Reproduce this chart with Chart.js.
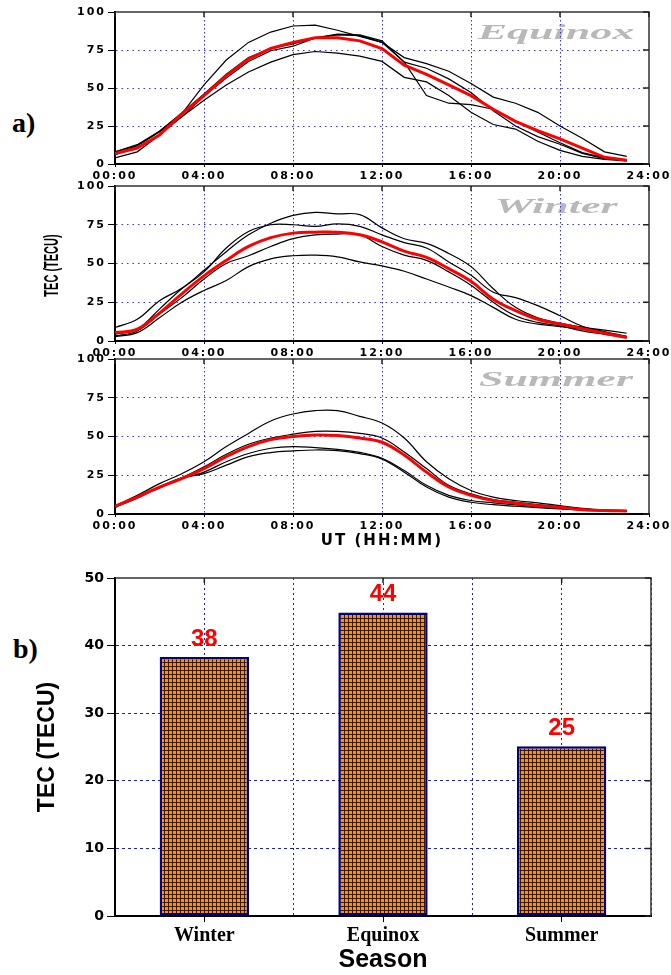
<!DOCTYPE html>
<html>
<head>
<meta charset="utf-8">
<script src="https://cdn.jsdelivr.net/npm/chart.js@4.4.1/dist/chart.umd.min.js"></script>
<style>
  body { margin: 0; background: #fff; width: 671px; height: 975px; position: relative; overflow: hidden; }
  canvas { position: absolute; left: 0; }
  .tag { position: absolute; font: bold 28px "Liberation Serif", serif; line-height: 1; color: #000; }
</style>
</head>
<body>
<div class="tag" style="left:12px;top:109px">a)</div>
<div class="tag" style="left:13px;top:635px">b)</div>
<canvas id="equinox" width="671" height="184" style="top:0"></canvas>
<canvas id="winter" width="671" height="190" style="top:170px"></canvas>
<canvas id="summer" width="671" height="207" style="top:343px"></canvas>
<canvas id="bars" width="671" height="425" style="top:550px"></canvas>
<script>
// hourly TEC, UT 00:00 .. 23:00
const hours = [0, 1, 2, 3, 4, 5, 6, 7, 8, 9, 10, 11, 12, 13, 14, 15, 16, 17, 18, 19, 20, 21, 22, 23];

const eqMean = [6.8, 10.5, 19, 33, 45, 58, 69, 76, 80, 83, 83, 81, 76, 65, 59, 52, 45, 36, 28, 22, 16.5, 10.5, 4.4, 2.4];
const eqA = [8, 12.7, 21.5, 33, 52, 68.4, 80, 86.8, 90.8, 91.4, 88, 84, 80, 70, 66, 61, 53, 44, 40, 34, 25, 17, 8, 5];
const eqB = [4, 8, 19, 31, 42, 52, 60.5, 67, 72, 74, 73, 71, 67.5, 57, 54, 45, 34, 26, 23, 15, 9, 5, 3, 2];
const eqC = [6, 12, 21, 31, 44.5, 56.5, 67.5, 74.5, 77.5, 83, 85.5, 85, 81, 67, 45, 40, 39, 36, 28, 21, 14, 7.5, 4, 2.5];
const eqD = [8, 12, 21.5, 33.5, 46, 59, 70, 76, 79, 83, 85, 84.4, 80, 67, 63, 56, 47, 35, 25, 18, 13, 7, 3.5, 2.2];

const winMean = [5.4, 7.6, 18, 30.4, 42, 52, 61, 66.7, 69.6, 70.2, 70.2, 68.5, 64, 58, 54, 46.7, 38.5, 27, 19.6, 14, 11, 8, 5, 2.2];
const winA = [8.7, 14, 26, 34, 45.6, 57.6, 68.5, 76, 81, 83, 82, 81.5, 73, 66, 63, 56.5, 48, 33.7, 21.7, 15, 11.5, 9, 7, 5];
const winB = [4.3, 7.6, 20.6, 33.7, 44.6, 60, 70.6, 75, 75, 74, 75.6, 74, 68.5, 63.5, 60, 51, 42.4, 31.5, 28, 22.8, 16.3, 9.5, 6, 3];
const winC = [3.3, 6.5, 17.4, 28, 40, 50, 55, 61, 66, 68.5, 69, 68.5, 61, 55.4, 52, 44.6, 36, 25, 16.3, 12, 9.8, 6.5, 4.3, 2.2];
const winD = [2.8, 5.4, 15, 25, 32.6, 39, 48, 53, 55, 55.4, 54.3, 51, 48.5, 45, 40, 34.8, 29.3, 21.7, 14, 10.9, 9.3, 7.6, 5, 2.8];

const sumMean = [5, 10.9, 17.4, 22.8, 29.3, 37, 43.5, 48, 50, 51, 50.6, 49, 46.3, 38, 27, 17.4, 12, 8.7, 7, 5.4, 4.3, 2.8, 2.2, 2];
const sumA = [5.4, 12, 19.6, 26, 33.7, 43.5, 52, 60, 64.5, 66.7, 66.7, 63, 58.7, 49, 33.7, 22.8, 15.2, 10.9, 8.7, 7.2, 5.4, 3.7, 2.6, 2.2];
const sumB = [5, 10.9, 17.4, 23.3, 30.4, 38.5, 45, 49, 51.5, 53.3, 53.3, 52, 49, 40, 29.3, 18.5, 13, 9.3, 7.6, 6, 4.8, 3.3, 2.4, 2];
const sumC = [4.3, 10.9, 16.7, 22.8, 27, 33.7, 39, 42.4, 43.5, 42.8, 41.7, 39.8, 36, 28, 18.5, 12, 8.7, 7.2, 5.9, 4.8, 3.7, 2.8, 2.2, 2];
const sumD = [4.3, 10.2, 17.4, 23.3, 26, 31.5, 37, 39.6, 40.7, 41.3, 40.9, 39, 35.4, 27, 17.4, 10.9, 7.6, 6, 5, 4.1, 3.3, 2.6, 2.2, 2];

// seasonal mean TEC
const seasons = ['Winter', 'Equinox', 'Summer'];
const meanTec = [38.3, 44.9, 25.1];

const GRID_BLUE = '#2f2fff';
const BAR_GRID = '#1c1cd0';

function stretched(ctx, text, x, y, font, color, sx, rot) {
  ctx.save();
  ctx.letterSpacing = '0px';
  ctx.translate(x, y);
  if (rot) ctx.rotate(rot);
  ctx.scale(sx, 1);
  ctx.font = font;
  ctx.fillStyle = color;
  ctx.textAlign = 'center';
  ctx.textBaseline = 'middle';
  ctx.fillText(text, 0, 0);
  ctx.restore();
}

// thin top/right frame with inward ticks
const frame = {
  id: 'frame',
  afterDatasetsDraw(chart) {
    const { ctx, chartArea: a, scales } = chart;
    const x = scales.x, y = scales.y;
    ctx.save();
    ctx.strokeStyle = '#333';
    ctx.lineWidth = 1.5;
    ctx.beginPath();
    ctx.moveTo(a.left, a.top);
    ctx.lineTo(a.right, a.top);
    ctx.lineTo(a.right, a.bottom);
    ctx.stroke();
    ctx.strokeStyle = '#222';
    ctx.beginPath();
    y.ticks.forEach(t => {
      const py = y.getPixelForValue(t.value);
      ctx.moveTo(a.right, py);
      ctx.lineTo(a.right - 6, py);
    });
    x.ticks.forEach((t, i) => {
      const px = x.getPixelForTick(i);
      ctx.moveTo(px, a.top);
      ctx.lineTo(px, a.top + 5);
    });
    ctx.stroke();
    ctx.restore();
  }
};

const spacing = {
  id: 'spacing',
  beforeDraw(chart) { chart.ctx.letterSpacing = '2px'; },
  afterDraw(chart) { chart.ctx.letterSpacing = '0px'; }
};

const seasonTag = {
  id: 'seasonTag',
  beforeDraw(chart, args, o) {
    const a = chart.chartArea;
    stretched(chart.ctx, o.text, a.right - 93, a.top + 21, 'italic bold 22px "Liberation Serif"', '#b8b8b8', 2, 0);
    if (o.yTitle) {
      stretched(chart.ctx, o.yTitle, 52, (a.top + a.bottom) / 2 + 2, 'bold 20px "Liberation Sans"', '#000', 0.55, -Math.PI / 2);
    }
  }
};

const tickFont = { family: 'DejaVu Sans', size: 11, weight: 'bold' };

function lineChart(id, mean, others, season, top, xh, opts) {
  const datasets = [{ data: mean, borderColor: '#ff0000', borderWidth: 3 }];
  others.forEach(d => datasets.push({ data: d, borderColor: '#000', borderWidth: 1.2 }));
  datasets.forEach(d => { d.pointRadius = 0; d.tension = opts.tension; d.fill = false; });
  return new Chart(document.getElementById(id), {
    type: 'line',
    data: { labels: hours, datasets },
    plugins: [spacing, seasonTag, frame],
    options: {
      responsive: false,
      animation: false,
      layout: { padding: { top: top, right: 22, left: 0, bottom: 0 } },
      plugins: {
        legend: { display: false },
        tooltip: { enabled: false },
        seasonTag: { text: season, yTitle: opts.yTitle }
      },
      scales: {
        x: {
          type: 'linear', min: 0, max: 24,
          ticks: {
            stepSize: 4, padding: 3, color: '#000', font: tickFont, maxRotation: 0,
            callback: v => String(v).padStart(2, '0') + ':00'
          },
          grid: {
            color: c => (c.tick && (c.tick.value === 0 || c.tick.value === 24)) ? 'transparent' : GRID_BLUE,
            tickColor: '#000', tickLength: 3
          },
          border: { color: '#000', width: 2, dash: [1.5, 2.5] },
          title: opts.xTitle
            ? { display: true, text: opts.xTitle, color: '#000', font: { family: 'DejaVu Sans', size: 15, weight: 'bold' }, padding: 0 }
            : { display: false },
          afterFit: s => { s.height = xh; }
        },
        y: {
          min: 0, max: 100,
          ticks: { stepSize: 25, padding: 2, color: '#000', font: tickFont },
          grid: {
            color: c => (c.tick && (c.tick.value === 0 || c.tick.value === 100)) ? 'transparent' : GRID_BLUE,
            tickColor: '#000', tickLength: 7
          },
          border: { color: '#000', width: 2, dash: [1.5, 4] },
          afterFit: s => { s.width = 115; }
        }
      }
    }
  });
}

lineChart('equinox', eqMean, [eqA, eqB, eqC, eqD], 'Equinox', 12, 20, { tension: 0 });
lineChart('winter', winMean, [winA, winB, winC, winD], 'Winter', 16, 19, { tension: 0.4, yTitle: 'TEC (TECU)' });
lineChart('summer', sumMean, [sumA, sumB, sumC, sumD], 'Summer', 16, 36, { tension: 0.4, xTitle: 'UT (HH:MM)' });

// bar chart with checkered orange fill
const barCanvas = document.getElementById('bars');
const tile = document.createElement('canvas');
tile.width = 4; tile.height = 4;
const tctx = tile.getContext('2d');
tctx.fillStyle = '#ff9200';
tctx.fillRect(0, 0, 4, 4);
tctx.fillStyle = '#3a1800';
tctx.fillRect(0, 0, 4, 1);
tctx.fillRect(0, 0, 1, 4);
const checker = barCanvas.getContext('2d').createPattern(tile, 'repeat');

const barTops = {
  id: 'barTops',
  afterDatasetsDraw(chart) {
    const { ctx } = chart;
    const meta = chart.getDatasetMeta(0);
    ctx.save();
    ctx.font = 'bold 24px "Liberation Sans"';
    ctx.fillStyle = '#ff0000';
    ctx.textAlign = 'center';
    ctx.textBaseline = 'middle';
    meta.data.forEach((b, i) => ctx.fillText(String(Math.floor(meanTec[i])), b.x, b.y - 18));
    ctx.restore();
  }
};

new Chart(barCanvas, {
  type: 'bar',
  data: {
    labels: seasons,
    datasets: [{
      data: meanTec,
      backgroundColor: checker,
      borderColor: '#000080',
      borderWidth: 2.5,
      borderSkipped: false,
      categoryPercentage: 1,
      barPercentage: 0.5
    }]
  },
  plugins: [frame, barTops],
  options: {
    responsive: false,
    animation: false,
    layout: { padding: { top: 28, right: 20, left: 0, bottom: 0 } },
    plugins: { legend: { display: false }, tooltip: { enabled: false } },
    scales: {
      x: {
        offset: true,
        grid: { offset: false, color: BAR_GRID, tickColor: '#000', tickLength: 6 },
        border: { color: '#000', width: 2, dash: [2, 3] },
        ticks: { color: '#000', padding: 2, font: { family: 'Liberation Serif', size: 20, weight: 'bold' } },
        title: { display: true, text: 'Season', color: '#000', padding: 0, font: { family: 'Liberation Sans', size: 25, weight: 'bold' } },
        afterFit: s => { s.height = 59; }
      },
      x2: {
        type: 'category', labels: seasons, position: 'top', offset: true,
        grid: {
          offset: true, drawTicks: false,
          color: c => (c.index === 0 || c.index === seasons.length) ? 'transparent' : BAR_GRID
        },
        border: { display: false, dash: [2, 3] },
        ticks: { display: false }
      },
      y: {
        min: 0, max: 50,
        ticks: { stepSize: 10, padding: 3, color: '#000', font: { family: 'DejaVu Sans', size: 14, weight: 'bold' } },
        grid: {
          color: c => (c.tick && (c.tick.value === 0 || c.tick.value === 50)) ? 'transparent' : BAR_GRID,
          tickColor: '#000', tickLength: 8
        },
        border: { color: '#000', width: 2, dash: [3, 3] },
        title: { display: true, text: 'TEC (TECU)', color: '#000', padding: { top: 34 }, font: { family: 'Liberation Sans', size: 23, weight: 'bold' } },
        afterFit: s => { s.width = 115; }
      }
    }
  }
});
</script>
</body>
</html>
